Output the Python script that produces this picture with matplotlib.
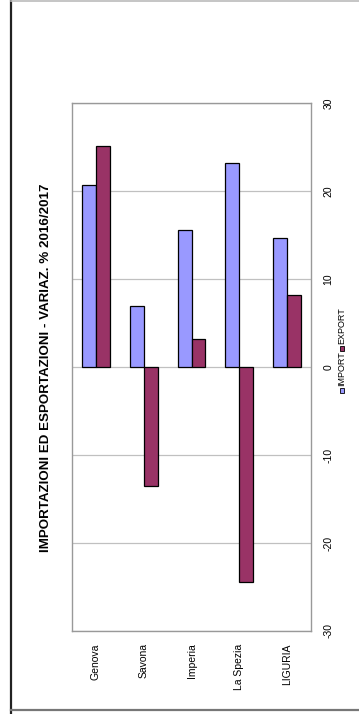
import matplotlib.pyplot as plt
import matplotlib.patches as mpatches
import numpy as np

# data (variazione % 2016/2017)
categories = ['Genova', 'Savona', 'Imperia', 'La Spezia', 'LIGURIA']
import_vals = [20.7, 6.9, 15.6, 23.2, 14.7]
export_vals = [25.1, -13.5, 3.2, -24.4, 8.2]
yticks = [-30, -20, -10, 0, 10, 20, 30]

imp_color = '#9999FF'
exp_color = '#993366'

W, H = 359, 714
fig = plt.figure(figsize=(W / 100, H / 100), dpi=100)

# outer frame
fig.add_artist(plt.Line2D([11 / W, 11 / W], [0, 1], color='#222222', lw=1.6))
fig.add_artist(plt.Line2D([11 / W, 1], [1 - 1 / H, 1 - 1 / H], color='#bbbbbb', lw=1.2))
fig.add_artist(plt.Line2D([11 / W, 1], [4 / H, 4 / H], color='#777777', lw=1.6))

left, right, top, bottom = 72, 311, 103, 631
ax = fig.add_axes([left / W, 1 - bottom / H, (right - left) / W, (bottom - top) / H])

x = np.arange(len(categories))
bw = 0.29
ax.bar(x - bw / 2, import_vals, bw, color=imp_color, edgecolor='black', linewidth=0.9, zorder=3)
ax.bar(x + bw / 2, export_vals, bw, color=exp_color, edgecolor='black', linewidth=0.9, zorder=3)

ax.set_xlim(-0.5, len(categories) - 0.5)
ax.set_ylim(-30, 30)
ax.set_yticks(yticks)
ax.yaxis.tick_right()
ax.set_yticklabels([str(v) for v in yticks], rotation=90, va='center',
                   fontsize=7.5, family='Liberation Sans')
ax.set_xticks(x)
ax.set_xticklabels(categories, rotation=90, fontsize=7.5, family='Liberation Sans')
ax.tick_params(axis='both', length=0, pad=9)
ax.grid(axis='y', color='#c0c0c0', linewidth=0.9, zorder=0)
for s in ax.spines.values():
    s.set_color('#999999')
    s.set_linewidth(1.0)

# title, rotated like the rest of the chart; sized to span ~368 px
title = fig.text(46 / W, 1 - 368 / H, 'IMPORTAZIONI ED ESPORTAZIONI - VARIAZ. % 2016/2017',
                 rotation=90, ha='center', va='center', fontsize=10, fontweight='bold',
                 family='Liberation Sans')
r = fig.canvas.get_renderer()
h = title.get_window_extent(r).height
title.set_fontsize(10 * 368 / h)

# legend (rotated)
lx = 342
for label, col, ytxt in [('IMPORT', imp_color, 386), ('EXPORT', exp_color, 344)]:
    fig.add_artist(mpatches.Rectangle(((lx - 2.2) / W, (H - ytxt - 6.5) / H), 4.5 / W, 4.5 / H,
                                      transform=fig.transFigure, facecolor=col,
                                      edgecolor='black', linewidth=0.6))
    fig.text(lx / W, 1 - ytxt / H, label, rotation=90, ha='center', va='bottom',
             fontsize=6.5, family='Liberation Sans')

plt.savefig('out.png', dpi=100)
